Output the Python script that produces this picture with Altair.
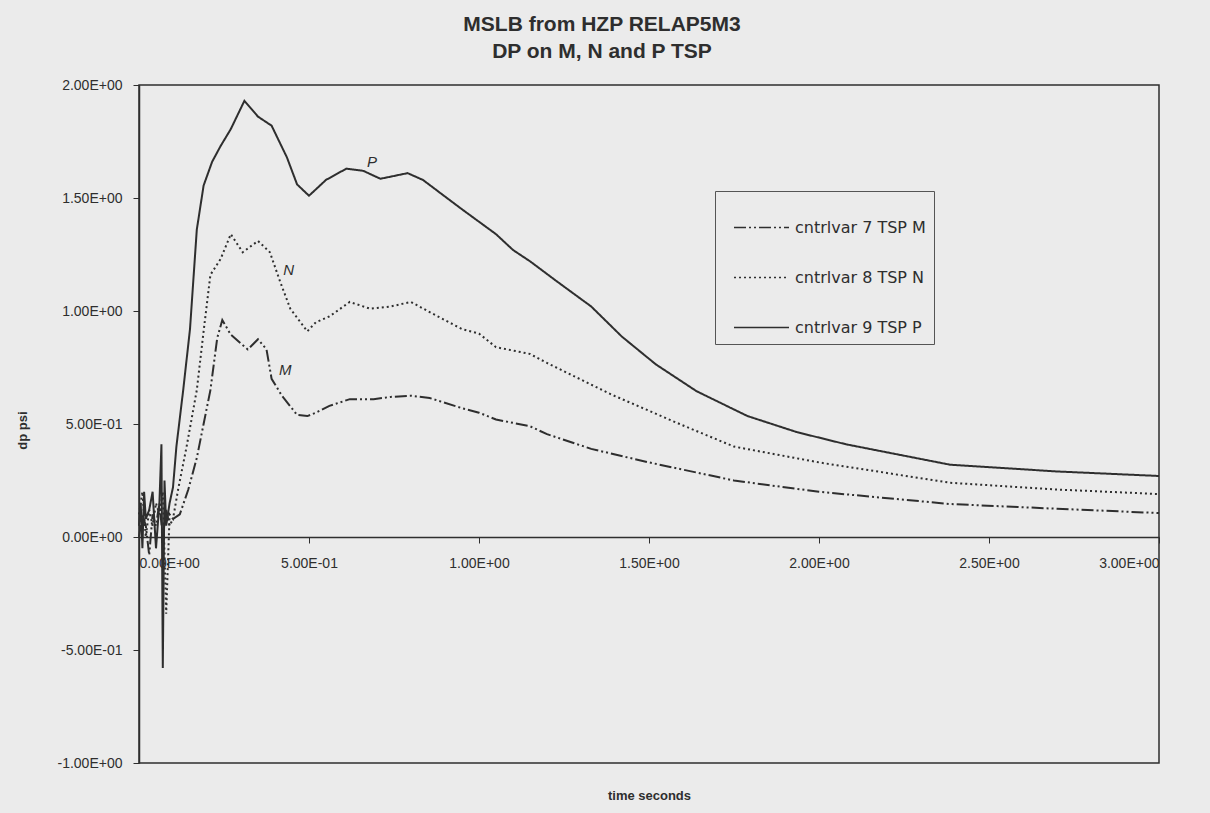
import altair as alt
import pandas as pd

# ---- data ----
series_names = ["cntrlvar 7 TSP M", "cntrlvar 8 TSP N", "cntrlvar 9 TSP P"]

t_P = [0.0, 0.005, 0.01, 0.015, 0.02, 0.03, 0.04, 0.05, 0.06, 0.066, 0.07, 0.075, 0.08, 0.09, 0.10,
       0.11, 0.13, 0.15, 0.17, 0.19, 0.215, 0.24, 0.27, 0.31, 0.35, 0.39, 0.435, 0.465, 0.50, 0.55,
       0.61, 0.66, 0.71, 0.79, 0.835, 0.95, 1.05, 1.10, 1.15, 1.23, 1.33, 1.42, 1.52, 1.64, 1.79,
       1.935, 2.08, 2.385, 2.7, 3.0]
v_P = [0.05, 0.15, -0.05, 0.2, 0.08, 0.12, 0.2, -0.05, 0.15, 0.41, -0.58, 0.25, 0.05, 0.15, 0.22,
       0.40, 0.65, 0.92, 1.36, 1.555, 1.66, 1.73, 1.805, 1.93, 1.86, 1.82, 1.68, 1.56, 1.51, 1.58,
       1.63, 1.62, 1.585, 1.61, 1.58, 1.45, 1.34, 1.27, 1.22, 1.13, 1.02, 0.887, 0.764, 0.645, 0.535,
       0.464, 0.41, 0.32, 0.29, 0.27]

t_N = [0.0, 0.01, 0.02, 0.03, 0.04, 0.05, 0.06, 0.07, 0.08, 0.09, 0.10, 0.115, 0.14, 0.17, 0.19,
       0.21, 0.24, 0.27, 0.305, 0.35, 0.385, 0.415, 0.445, 0.495, 0.52, 0.56, 0.62, 0.68, 0.74, 0.80,
       0.855, 0.95, 1.00, 1.05, 1.15, 1.20, 1.39, 1.59, 1.75, 2.0, 2.385, 2.7, 3.0]
v_N = [0.1, 0.2, 0.0, 0.12, 0.05, 0.15, 0.1, 0.2, -0.34, 0.1, 0.08, 0.21, 0.4, 0.65, 0.91,
       1.16, 1.23, 1.34, 1.26, 1.31, 1.26, 1.13, 1.01, 0.91, 0.95, 0.976, 1.04, 1.01, 1.02, 1.04,
       0.995, 0.92, 0.90, 0.84, 0.81, 0.77, 0.63, 0.50, 0.40, 0.33, 0.24, 0.21, 0.19]

t_M = [0.0, 0.01, 0.02, 0.03, 0.04, 0.05, 0.06, 0.07, 0.08, 0.09, 0.10, 0.12, 0.145, 0.17, 0.19,
       0.21, 0.23, 0.245, 0.27, 0.32, 0.35, 0.375, 0.39, 0.42, 0.465, 0.495, 0.52, 0.56, 0.62, 0.69,
       0.74, 0.80, 0.855, 0.95, 1.0, 1.05, 1.15, 1.2, 1.33, 1.5, 1.75, 2.0, 2.385, 2.7, 3.0]
v_M = [0.0, 0.1, 0.05, -0.08, 0.1, 0.05, 0.15, 0.0, 0.12, 0.05, 0.08, 0.1, 0.21, 0.35, 0.5,
       0.65, 0.88, 0.96, 0.895, 0.83, 0.875, 0.83, 0.70, 0.626, 0.54, 0.535, 0.55, 0.58, 0.61, 0.61,
       0.62, 0.625, 0.615, 0.57, 0.55, 0.52, 0.49, 0.455, 0.39, 0.33, 0.25, 0.2, 0.146, 0.125, 0.106]

curve_tags = ["M", "N", "P"]
tag_t = [0.43, 0.44, 0.685]
tag_v = [0.74, 1.18, 1.66]

y_ticks = [-1.0, -0.5, 0.0, 0.5, 1.0, 1.5, 2.0]
y_tick_labels = ["-1.00E+00", "-5.00E-01", "0.00E+00", "5.00E-01", "1.00E+00", "1.50E+00", "2.00E+00"]
x_ticks = [0.0, 0.5, 1.0, 1.5, 2.0, 2.5, 3.0]
x_tick_labels = ["0.00E+00", "5.00E-01", "1.00E+00", "1.50E+00", "2.00E+00", "2.50E+00", "3.00E+00"]

# ---- build table ----
rows = []
for name, ts, vs in zip(series_names, [t_M, t_N, t_P], [v_M, v_N, v_P]):
    for t, v in zip(ts, vs):
        rows.append({"series": name, "t": t, "v": v})
df = pd.DataFrame(rows)
df_tags = pd.DataFrame({"t": tag_t, "v": tag_v, "tag": curve_tags})


def label_expr(vals, labels):
    return ("[" + ",".join("'" + l + "'" for l in labels) + "][indexof(["
            + ",".join(str(v) for v in vals) + "], datum.value)]")


FONT = "Liberation Sans"
INK = "#2e2e2e"
BG = "#ebebeb"
W, H = 1020, 678

x_scale = alt.Scale(domain=[0, 3], nice=False, zero=False)
y_scale = alt.Scale(domain=[-1, 2], nice=False, zero=False)

lines = alt.Chart(df).mark_line(color=INK, strokeWidth=2).encode(
    x=alt.X("t:Q", scale=x_scale,
            axis=alt.Axis(values=x_ticks, labelExpr=label_expr(x_ticks, x_tick_labels),
                          orient="bottom", offset=-H / 3, grid=False,
                          domainColor=INK, domainWidth=1.5, tickColor=INK, tickSize=6,
                          labelPadding=13, labelFontSize=14, labelFont=FONT, labelColor=INK,
                          title="time seconds", titleFont=FONT, titleFontSize=13,
                          titleFontWeight="bold", titleColor=INK, titleX=W / 2, titleY=258,
                          titleBaseline="middle")),
    y=alt.Y("v:Q", scale=y_scale,
            axis=alt.Axis(values=y_ticks, labelExpr=label_expr(y_ticks, y_tick_labels),
                          grid=False, domainColor=INK, domainWidth=1.5, tickColor=INK,
                          tickSize=6, labelPadding=11, labelFontSize=14, labelFont=FONT,
                          labelColor=INK, title="dp psi", titleFont=FONT, titleFontSize=13,
                          titleFontWeight="bold", titleColor=INK, titleX=-117, titleY=345,
                          titleBaseline="middle")),
    strokeDash=alt.StrokeDash(
        "series:N",
        scale=alt.Scale(domain=series_names, range=[[12, 3, 2, 3, 2, 3], [2, 3], [1, 0]]),
        legend=alt.Legend(title=None, orient="none", legendX=576, legendY=106,
                          strokeColor="#555", fillColor=BG, padding=8, symbolOffset=10,
                          symbolSize=3025, symbolStrokeWidth=1.5, symbolStrokeColor=INK,
                          labelFontSize=16, labelFont="DejaVu Sans", labelColor=INK,
                          labelOffset=5, labelLimit=300, rowPadding=13)),
)

tags = alt.Chart(df_tags).mark_text(fontSize=15, font=FONT, fontStyle="italic", color=INK).encode(
    x=alt.X("t:Q", scale=x_scale),
    y=alt.Y("v:Q", scale=y_scale),
    text="tag:N",
)

chart = alt.layer(lines, tags).properties(
    width=W, height=H,
    autosize=alt.AutoSizeParams(type="none"),
    padding={"left": 139, "top": 85, "right": 51, "bottom": 50},
    background=BG,
    title=alt.TitleParams(text=["MSLB from HZP RELAP5M3", "DP on M, N and P TSP"],
                          font=FONT, fontSize=21, fontWeight="bold", color=INK,
                          anchor="middle", dx=-47, offset=16, lineHeight=27),
).configure_view(stroke=INK, strokeWidth=1.5)

chart.save("out.html", embed_options={"renderer": "svg", "actions": False})
